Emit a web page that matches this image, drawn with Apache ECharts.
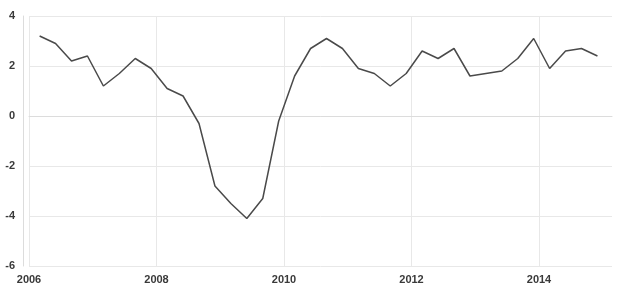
<!DOCTYPE html>
<html>
<head>
<meta charset="utf-8">
<script src="https://cdn.jsdelivr.net/npm/echarts@6/dist/echarts.min.js"></script>
<style>html,body{margin:0;padding:0;background:#fff}#c{width:624px;height:295px}</style>
</head>
<body>
<div id="c"></div>
<script>
const quarters = ['2006Q1','2006Q2','2006Q3','2006Q4','2007Q1','2007Q2','2007Q3','2007Q4',
  '2008Q1','2008Q2','2008Q3','2008Q4','2009Q1','2009Q2','2009Q3','2009Q4',
  '2010Q1','2010Q2','2010Q3','2010Q4','2011Q1','2011Q2','2011Q3','2011Q4',
  '2012Q1','2012Q2','2012Q3','2012Q4','2013Q1','2013Q2','2013Q3','2013Q4',
  '2014Q1','2014Q2','2014Q3','2014Q4'];
const values = [3.2,2.9,2.2,2.4,1.2,1.7,2.3,1.9,1.1,0.8,-0.3,-2.8,-3.5,-4.1,-3.3,-0.2,
  1.6,2.7,3.1,2.7,1.9,1.7,1.2,1.7,2.6,2.3,2.7,1.6,1.7,1.8,2.3,3.1,1.9,2.6,2.7,2.4];
const yTicks = [-6,-4,-2,0,2,4];
const xTicks = [2006,2008,2010,2012,2014];

// place each quarter at mid-quarter position on a year value axis
const points = quarters.map((q, i) => {
  const y = parseInt(q.slice(0,4), 10), n = parseInt(q.slice(5), 10);
  return [y + (n - 1) / 4 + 1 / 6, values[i]];
});

const chart = echarts.init(document.getElementById('c'), null, {renderer:'canvas'});
const labelStyle = {color:'#3a3a3a', fontSize:11, fontFamily:'Liberation Sans, Arial, sans-serif', fontWeight:'bold'};
chart.setOption({
  animation:false,
  backgroundColor:'#fff',
  grid:{left:29, right:12, top:16, bottom:29},
  xAxis:{
    type:'value', min:xTicks[0], max:2015.145, interval:2,
    axisLine:{show:true, lineStyle:{color:'#dcdcdc', width:1}},
    axisTick:{show:false},
    axisLabel:{...labelStyle, margin:8, showMaxLabel:false,
      formatter:v => xTicks.includes(v) ? String(v) : ''},
    splitLine:{show:true, showMaxLine:false, lineStyle:{color:'#e8e8e8', width:1}}
  },
  yAxis:{
    type:'value', min:yTicks[0], max:yTicks[yTicks.length-1], interval:2,
    offset:6,
    axisLine:{show:true, lineStyle:{color:'#dcdcdc', width:1}},
    axisTick:{show:false},
    axisLabel:{...labelStyle, margin:8},
    splitLine:{show:true, lineStyle:{color:'#e8e8e8', width:1}}
  },
  series:[{
    type:'line', data:points, showSymbol:false, symbol:'none',
    lineStyle:{color:'#4a4a4a', width:1.5}
  }]
});
</script>
</body>
</html>
